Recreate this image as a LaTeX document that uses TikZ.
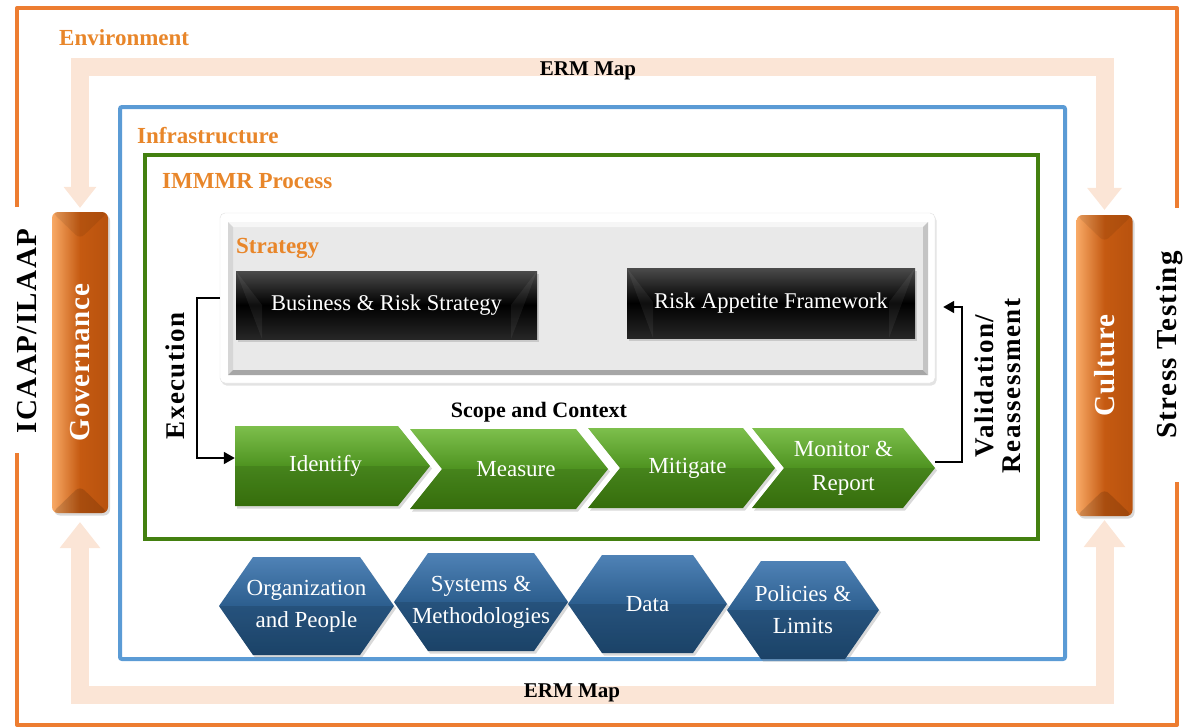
\documentclass[tikz,border=0pt]{standalone}
\usepackage{fontspec}
\setmainfont{Liberation Serif}
\usetikzlibrary{arrows.meta,shadows,calc}
\definecolor{envorange}{HTML}{ED7D31}
\definecolor{lblorange}{HTML}{E8862A}
\definecolor{peach}{HTML}{FBE5D6}
\definecolor{infblue}{HTML}{5B9BD5}
\definecolor{procgreen}{HTML}{438010}
\definecolor{chevtop}{HTML}{7DBF4C}
\definecolor{chevmid}{HTML}{4E9320}
\definecolor{chevbot}{HTML}{3C7A0D}
\definecolor{hextop}{HTML}{4F82B6}
\definecolor{hexmid}{HTML}{2C5E8E}
\definecolor{hexbot}{HTML}{1F4C76}
\definecolor{orlight}{HTML}{F8A965}
\definecolor{ormain}{HTML}{C55A11}
\definecolor{ordark}{HTML}{B8520E}
\definecolor{stratgray}{HTML}{E9E9E9}
\definecolor{bevlight}{HTML}{F6F6F6}
\definecolor{bevleft}{HTML}{D6D6D6}
\definecolor{bevbot}{HTML}{A6A6A6}
\definecolor{bevright}{HTML}{C4C4C4}
\definecolor{boxgray}{HTML}{4B4B4B}

\newcommand\fsz[2]{\fontsize{#1}{#2}\selectfont}

\tikzset{
  envline/.style={envorange, line width=4pt, line join=round},
  envlabel/.style={text=lblorange, font=\fsz{23}{27}\bfseries, inner sep=0pt, anchor=base west},
  ermband/.style={peach, line width=18pt},
  ermlabel/.style={font=\fsz{21}{25}\bfseries, inner sep=0pt, anchor=base},
  sidelabel/.style={font=\fsz{29}{33}\bfseries\addfontfeatures{LetterSpace=5}, rotate=90, inner sep=0pt},
  shad/.style={drop shadow={opacity=.3,shadow xshift=2pt,shadow yshift=-2.5pt}},
  orbox/.style={rounded corners=6pt, minimum width=56pt, minimum height=301pt,
    left color=orlight, right color=ordark, middle color=ormain, text=white,
    font=\fsz{29}{33}\bfseries\addfontfeatures{LetterSpace=3}, inner sep=0pt, shad,
    path picture={
      \fill[black,opacity=.08] (path picture bounding box.north west) -- (path picture bounding box.north east) -- ([yshift=-27pt]path picture bounding box.north) -- cycle;
      \fill[black,opacity=.14] (path picture bounding box.south west) -- (path picture bounding box.south east) -- ([yshift=27pt]path picture bounding box.south) -- cycle;}},
  blackbox/.style={top color=boxgray, bottom color=black!85, middle color=black, text=white,
    font=\fsz{22.5}{26}, inner sep=0pt, shad,
    path picture={
      \fill[white,opacity=.06] (path picture bounding box.north west) -- ([xshift=26pt,yshift=-34pt]path picture bounding box.north west) -- ([xshift=26pt]path picture bounding box.south west) -- cycle;
      \fill[white,opacity=.06] (path picture bounding box.north east) -- ([xshift=-26pt,yshift=-34pt]path picture bounding box.north east) -- ([xshift=-26pt]path picture bounding box.south east) -- cycle;}},
  chevshape/.style={top color=chevtop, bottom color=chevbot, middle color=chevmid, shad,
    path picture={\fill[black,opacity=.10] ([yshift=-40pt]path picture bounding box.north west) rectangle (path picture bounding box.south east);}},
  chevtext/.style={text=white, font=\fsz{23}{34}, align=center, minimum height=80pt, inner sep=0pt},
  hexshape/.style={top color=hextop, bottom color=hexbot, middle color=hexmid, shad,
    path picture={\fill[black,opacity=.12] ([yshift=-49pt]path picture bounding box.north west) rectangle (path picture bounding box.south east);}},
  hextext/.style={text=white, font=\fsz{23}{32}, align=center, minimum height=98pt, inner sep=0pt},
  conn/.style={line width=1.8pt, -{Triangle[length=11pt,width=12pt]}},
  plainlabel/.style={inner sep=0pt},
}

% chevron: name, left x, tip x, centre y, notch depth, text
\newcommand\chev[6]{%
  \path[chevshape] (#2,#4-40) -- (#3-32,#4-40) -- (#3,#4) -- (#3-32,#4+40) -- (#2,#4+40) -- (#2+#5,#4) -- cycle;
  \node[chevtext, minimum width={(#3-#2)*1pt}] (#1) at ({(#2+#3)/2},#4) {#6};
}
% hexagon: name, left x, right x, centre y, text
\newcommand\hexa[5]{%
  \path[hexshape] (#2,#4) -- (#2+34,#4-49) -- (#3-34,#4-49) -- (#3,#4) -- (#3-34,#4+49) -- (#2+34,#4+49) -- cycle;
  \node[hextext, minimum width={(#3-#2)*1pt}] (#1) at ({(#2+#3)/2},#4) {#5};
}

\begin{document}
\begin{tikzpicture}[x=1pt,y=-1pt]
\useasboundingbox (0,0) rectangle (1186,726);

% environment frame
\draw[envline] (17,207) -- (17,8) -- (1177,8) -- (1177,208);
\draw[envline] (1177,482) -- (1177,725) -- (17,725) -- (17,453);
\node[envlabel] (env) at (59,45) {Environment};

% side labels
\node[sidelabel] (icaap) at (27,331) {ICAAP/ILAAP};
\node[sidelabel] (stress) at (1170,345) {Stress Testing};

% governance / culture
\node[orbox] (gov) at (80,362.5) {\rotatebox{90}{Governance}};
\node[orbox] (cul) at (1104.5,365.5) {\rotatebox{90}{Culture}};

% ERM map arrows
\coordinate (ermT) at (590,67);
\coordinate (ermB) at (590,694.5);
\draw[ermband, {Triangle[width=33pt,length=21pt,line width=0pt]}-{Triangle[width=35pt,length=22pt,line width=0pt]}, shorten <=4pt, shorten >=5pt]
  (gov.north) |- (ermT) -| (cul.north);
\draw[ermband, {Triangle[width=41pt,length=26pt,line width=0pt]}-{Triangle[width=42pt,length=27pt,line width=0pt]}, shorten <=9pt, shorten >=4pt]
  (gov.south) |- (ermB) -| (cul.south);
\node[ermlabel] (ermtop) at (588,75) {ERM Map};
\node[ermlabel] (ermbot) at (572,697) {ERM Map};

% infrastructure and process frames
\draw[infblue, line width=4pt, rounded corners=2pt] (120,107) rectangle (1065,659);
\node[envlabel] (infra) at (137,143) {Infrastructure};
\draw[procgreen, line width=4.5pt] (145,155) rectangle (1038,539);
\node[envlabel] (immmr) at (162,188) {IMMMR Process};

% strategy panel
\node[fill=white, draw=black!12, rounded corners=5pt, minimum width=715pt, minimum height=170pt,
  drop shadow={opacity=.22,shadow xshift=1.5pt,shadow yshift=-2.5pt}] (strat) at (577.5,298) {};
\fill[stratgray] (228,222) rectangle (928,375);
\fill[bevlight] (228,222) -- (928,222) -- (923,227) -- (233,227) -- cycle;
\fill[bevleft] (228,222) -- (233,227) -- (233,370) -- (228,375) -- cycle;
\fill[bevbot] (228,375) -- (233,370) -- (923,370) -- (928,375) -- cycle;
\fill[bevright] (928,222) -- (923,227) -- (923,370) -- (928,375) -- cycle;
\node[envlabel] (stratlbl) at (236,253) {Strategy};
\node[blackbox, minimum width=301pt, minimum height=68pt] (brs) at (386.5,305) {Business \& Risk Strategy};
\node[blackbox, minimum width=288pt, minimum height=70pt] (raf) at (771,303) {Risk Appetite Framework};

\node[plainlabel, font=\fsz{22}{26}\bfseries, anchor=base] (scope) at (539,417) {Scope and Context};

% process chevrons
\chev{ident}{235}{430}{466}{0}{\hspace*{-14pt}Identify}
\chev{meas}{410}{608}{469}{32}{\hspace*{14pt}Measure}
\chev{miti}{588}{775}{468}{32}{\hspace*{12pt}Mitigate}
\chev{mon}{752}{935}{468}{32}{Monitor \&\\Report}

% execution / validation connectors
\node[plainlabel, rotate=90, font=\fsz{27}{30}\bfseries\addfontfeatures{LetterSpace=5}] (exec) at (175,376) {Execution};
\draw[conn] (strat.west) -- ++(-23,0) |- ([yshift=8pt]ident.west);
\node[plainlabel, rotate=90, align=center, font=\fsz{27}{27}\bfseries\addfontfeatures{LetterSpace=6}] (valid) at (998,386) {Validation/\\Reassessment};
\draw[conn, shorten >=8pt] ([yshift=6pt]mon.east) -- ++(27,0) |- ([yshift=-9pt]strat.east);

% infrastructure hexagons
\hexa{org}{219}{394}{606}{Organization\\and People}
\hexa{sys}{394}{568}{602}{Systems \&\\Methodologies}
\hexa{data}{568}{727}{604}{Data}
\hexa{pol}{727}{879}{610}{Policies \&\\Limits}

\end{tikzpicture}
\end{document}
